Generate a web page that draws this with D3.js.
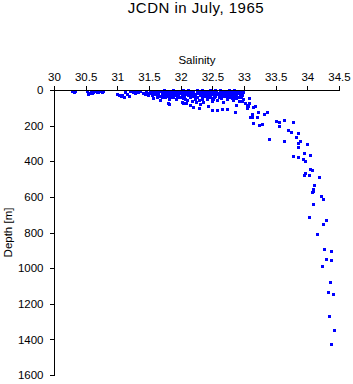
<!DOCTYPE html>
<html>
<head>
<meta charset="utf-8">
<script src="https://cdn.jsdelivr.net/npm/d3@7"></script>
<style>
  body { margin: 0; background: #fff; }
  text { font-family: "Liberation Sans", Arial, sans-serif; fill: #000; }
</style>
</head>
<body>
<svg id="chart" width="353" height="384"></svg>
<script>
// tick values
const salinityTicks = [30, 30.5, 31, 31.5, 32, 32.5, 33, 33.5, 34, 34.5];
const depthTicks = [0, 200, 400, 600, 800, 1000, 1200, 1400, 1600];

const salinity = [
  30.29, 30.31, 30.33,
  30.52, 30.55, 30.58, 30.62, 30.65, 30.68, 30.72, 30.75, 30.60, 30.54, 30.70, 30.78,
  31.00, 31.02, 31.05, 31.08, 31.12, 31.15, 31.18, 31.20, 31.10,
  31.25, 31.28, 31.30, 31.33, 31.36, 31.40, 31.43, 31.46, 31.48, 31.50,
  31.52, 31.54, 31.56, 31.57, 31.60, 31.62, 31.63, 31.65, 31.67, 31.68, 31.70, 31.72, 31.74, 31.75,
  31.77, 31.78, 31.80, 31.82, 31.83, 31.85, 31.87, 31.88, 31.90, 31.92, 31.93, 31.95, 31.96, 31.98, 31.99, 31.81,
  31.53, 31.59, 31.64, 31.69, 31.71, 31.76, 31.79, 31.84, 31.86, 31.89, 31.91, 31.94, 31.97,
  32.00, 32.02, 32.03, 32.05, 32.06, 32.08, 32.10, 32.11, 32.12, 32.14, 32.15, 32.16, 32.18, 32.19,
  32.20, 32.22, 32.23, 32.25, 32.26, 32.28, 32.29, 32.30, 32.32, 32.33, 32.35, 32.36, 32.38, 32.39,
  32.40, 32.42, 32.43, 32.45, 32.46, 32.48, 32.49, 32.02, 32.08, 32.24, 32.15, 32.30,
  31.80, 32.03, 32.19, 32.29, 32.43, 32.49, 32.57, 32.65, 32.73, 32.85, 32.87,
  32.50, 32.52, 32.53, 32.55, 32.57, 32.58, 32.60, 32.62, 32.63, 32.65, 32.67, 32.68, 32.70, 32.72,
  32.73, 32.75, 32.77, 32.78, 32.80, 32.82, 32.83, 32.85, 32.87, 32.88, 32.90, 32.92, 32.93, 32.95,
  32.96, 32.98, 32.99,
  32.01, 32.04, 32.07, 32.09, 32.13, 32.17, 32.21, 32.24, 32.27, 32.31, 32.34, 32.37, 32.41, 32.44,
  32.47, 32.51, 32.54, 32.56, 32.59, 32.61, 32.64, 32.66, 32.69, 32.71, 32.74, 32.76, 32.79, 32.81,
  32.84, 32.86, 32.89, 32.91, 32.94, 32.97,
  31.66, 31.73, 31.81, 31.88, 31.95, 32.04, 32.11, 32.18, 32.26, 32.33, 32.40, 32.47, 32.55, 32.62,
  32.70, 32.77, 32.84, 32.92, 31.61, 31.86, 32.07, 32.22, 32.36, 32.52, 32.68, 32.81, 32.95, 31.58,
  32.02, 32.50,
  32.97, 33.01, 33.04, 33.14, 33.04,
  33.08, 33.08, 33.17, 33.06, 33.12, 33.12, 33.09, 33.22, 33.31, 33.36, 33.20, 33.14, 33.28, 33.23,
  33.50, 33.56, 33.63, 33.77, 33.56, 33.69, 33.74, 33.85, 33.39, 33.63, 33.82, 33.88, 33.86, 33.86,
  33.99, 33.94, 34.04, 33.77, 33.86, 33.93, 33.96, 34.04, 34.07, 33.96, 33.94, 34.02, 34.18, 34.10,
  34.09, 34.09, 34.07, 34.21, 34.24,
  34.085, 34.02, 34.29, 34.24, 34.15, 34.26, 34.37, 34.29, 34.38, 34.23, 34.35, 34.32, 34.40, 34.34,
  34.42, 34.37
];
const depth = [
  5, 12, 8,
  5, 15, 8, 10, 4, 12, 6, 9, 18, 20, 14, 5,
  22, 30, 35, 28, 12, 20, 35, 8, 38,
  10, 18, 5, 12, 8, 15, 22, 10, 28, 18,
  5, 30, 45, 12, 25, 40, 8, 20, 35, 55, 15, 28, 5, 42,
  20, 10, 33, 48, 15, 25, 6, 38, 18, 30, 52, 10, 22, 40, 4, 78,
  15, 8, 30, 5, 40, 14, 25, 40, 12, 28, 8, 35, 15,
  15, 28, 45, 8, 35, 20, 55, 12, 30, 42, 5, 22, 62, 35,
  14, 48, 25, 8, 38, 18, 55, 30, 10, 42, 22, 68, 5, 35,
  15, 50, 28, 8, 40, 20, 60, 65, 75, 70, 85, 80,
  73, 73, 95, 101, 90, 112, 112, 107, 107, 124, 84,
  10, 25, 40, 5, 18, 55, 30, 12, 45, 22, 65, 8, 35, 18,
  50, 28, 6, 40, 15, 58, 25, 10, 45, 30, 18, 62, 8, 35,
  22, 48, 12,
  38, 18, 50, 4, 25, 10, 30, 40, 6, 25, 52, 15, 38, 20,
  30, 48, 35, 14, 20, 42, 4, 32, 25, 10, 38, 15, 28, 5,
  38, 20, 8, 40, 25, 30,
  3, 2, 4, 2, 3, 1, 2, 3, 2, 1, 3, 2, 1, 2,
  3, 1, 2, 3, 20, 18, 25, 32, 26, 33, 22, 45, 42, 22,
  24, 44,
  62, 73, 84, 95, 101,
  45, 73, 90, 90, 135, 152, 152, 124, 135, 124, 152, 185, 191, 196,
  174, 180, 168, 180, 202, 225, 236, 241, 275, 286, 264, 286, 298, 320,
  303, 354, 365, 371, 376, 387, 399, 444, 449, 466, 477, 477, 488, 533,
  556, 567, 573, 595, 612,
  640, 713, 730, 752, 808, 893, 904, 949, 954, 988, 1078, 1134, 1145, 1269,
  1347, 1426
];

const svg = d3.select("#chart");
const plotLeft = 54, plotRight = 339, plotTop = 90, plotBottom = 375;

const x = d3.scaleLinear().domain([30, 34.5]).range([plotLeft, plotRight]);
const y = d3.scaleLinear().domain([0, 1600]).range([plotTop, plotBottom]);

// 点を描画
svg.append("g")
  .selectAll("rect")
  .data(d3.range(salinity.length))
  .enter()
  .append("rect")
  .attr("x", (i) => Math.round(x(salinity[i])) - 1)
  .attr("y", (i) => Math.round(y(depth[i])) - 1)
  .attr("width", 3)
  .attr("height", 3)
  .attr("fill", "#0000ff")
  .attr("shape-rendering", "crispEdges");

// 上側の軸
const xAxis = svg.append("g")
  .attr("transform", `translate(0,${plotTop + 0.5})`)
  .call(d3.axisTop(x).tickValues(salinityTicks).tickSize(5).tickPadding(5)
    .tickFormat((d) => String(d)));

// 左側の軸
const yAxis = svg.append("g")
  .attr("transform", `translate(${plotLeft + 0.5},0)`)
  .call(d3.axisLeft(y).tickValues(depthTicks).tickSize(5).tickPadding(6)
    .tickFormat((d) => String(d)));

[xAxis, yAxis].forEach((g) => {
  g.attr("shape-rendering", "crispEdges");
  g.selectAll("path").attr("stroke", "#000").attr("stroke-width", 1);
  g.selectAll("line").attr("stroke", "#000").attr("stroke-width", 1);
  g.selectAll("text")
    .attr("font-family", "'Liberation Sans', Arial, sans-serif")
    .attr("font-size", 11.5)
    .attr("fill", "#000");
});
xAxis.select(".domain").attr("d", `M${plotLeft + 0.5},0H${plotRight + 0.5}`);
yAxis.select(".domain").attr("d", `M0,${plotTop + 0.5}V${plotBottom + 0.5}`);

// タイトルとラベル
svg.append("text")
  .attr("x", 196)
  .attr("y", 13)
  .attr("text-anchor", "middle")
  .attr("font-size", 15)
  .attr("letter-spacing", 0.5)
  .text("JCDN in July, 1965");

svg.append("text")
  .attr("x", 197)
  .attr("y", 64)
  .attr("text-anchor", "middle")
  .attr("font-size", 11.5)
  .text("Salinity");

svg.append("text")
  .attr("transform", `translate(12,${(plotTop + plotBottom) / 2}) rotate(-90)`)
  .attr("text-anchor", "middle")
  .attr("font-size", 11.5)
  .text("Depth [m]");
</script>
</body>
</html>
